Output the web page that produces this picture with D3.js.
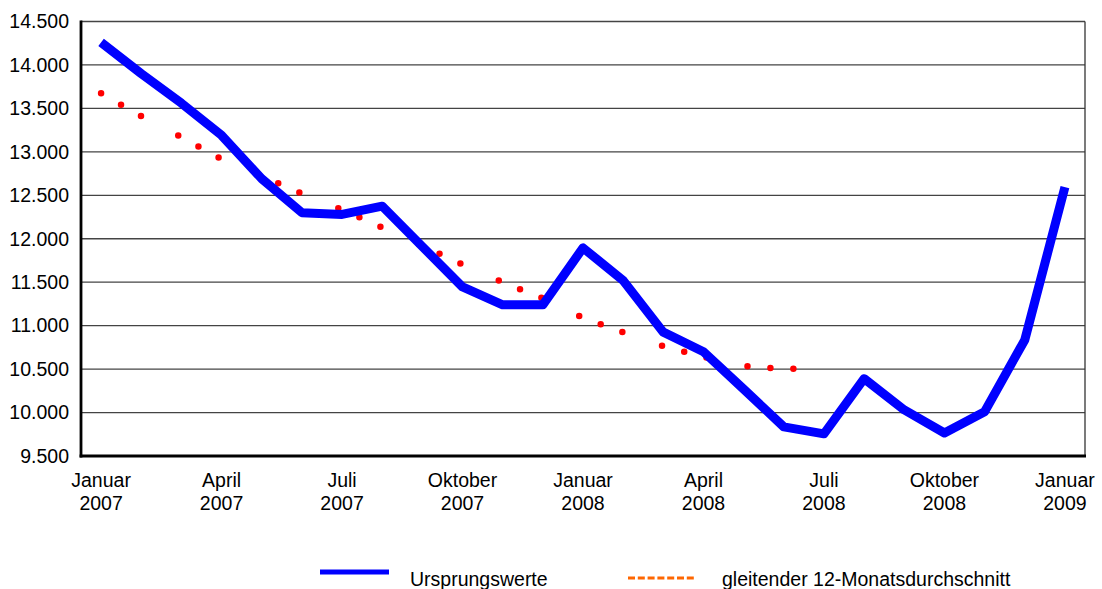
<!DOCTYPE html>
<html><head><meta charset="utf-8">
<script src="https://cdn.jsdelivr.net/npm/d3@7"></script>
<style>
html,body{margin:0;padding:0;background:#fff;}
svg{display:block;font-family:"Liberation Sans",Arial,sans-serif;}
</style></head>
<body>
<svg id="chart" width="1102" height="589"></svg>
<script>
const months = ["Januar 2007","Februar 2007","März 2007","April 2007","Mai 2007","Juni 2007","Juli 2007","August 2007","September 2007","Oktober 2007","November 2007","Dezember 2007","Januar 2008","Februar 2008","März 2008","April 2008","Mai 2008","Juni 2008","Juli 2008","August 2008","September 2008","Oktober 2008","November 2008","Dezember 2008","Januar 2009"];
const tickLabels = ["Januar 2007","April 2007","Juli 2007","Oktober 2007","Januar 2008","April 2008","Juli 2008","Oktober 2008","Januar 2009"];
const ursprungswerte = [14260,13900,13560,13190,12690,12300,12280,12375,11910,11445,11240,11240,11895,11520,10925,10700,10270,9835,9755,10390,10030,9765,10010,10835,12595];
const gleitenderDurchschnitt = [13675,13410,13170,12915,12720,12520,12335,12130,11920,11705,11500,11315,11090,10925,10765,10640,10535,10500,10515];
const yTicks = [9500,10000,10500,11000,11500,12000,12500,13000,13500,14000,14500];
const legendLabels = ["Ursprungswerte","gleitender 12-Monatsdurchschnitt"];

const svg = d3.select("#chart");
const L = 81, R = 1085, T = 21.5, B = 456;

const x = d3.scaleBand().domain(months).range([L, R]).padding(0);
const cx = d => x(d) + x.bandwidth() / 2;
const y = d3.scaleLinear().domain([9500, 14500]).range([B, T]);
const de = d3.formatLocale({decimal: ",", thousands: ".", grouping: [3], currency: ["", " €"]});
const fmt = de.format(",d");

// gridlines
svg.append("g").selectAll("line").data(yTicks.filter(v => v > 9500)).join("line")
  .attr("x1", L).attr("x2", R).attr("y1", d => y(d)).attr("y2", d => y(d))
  .attr("stroke", "#444").attr("stroke-width", 1.3);
// right frame
svg.append("line").attr("x1", R).attr("x2", R).attr("y1", T).attr("y2", B)
  .attr("stroke", "#333").attr("stroke-width", 1.3);

// y axis
const yAxis = d3.axisLeft(y).tickValues(yTicks).tickFormat(fmt).tickSize(0).tickPadding(12);
const ga = svg.append("g").attr("transform", `translate(${L},0)`).call(yAxis);
ga.select(".domain").remove();
ga.selectAll("text").attr("font-size", 19.5).attr("fill", "#000")
  .attr("font-family", "'Liberation Sans',Arial,sans-serif");

// x axis
const xAxis = d3.axisBottom(x).tickValues(tickLabels).tickSize(0).tickFormat("");
const gx = svg.append("g").attr("transform", `translate(0,${B})`).call(xAxis);
gx.select(".domain").remove();
gx.selectAll(".tick").each(function(d) {
  const parts = d.split(" ");
  const t = d3.select(this).append("text").attr("fill", "#000").attr("text-anchor", "middle")
    .attr("font-size", 19.5).attr("font-family", "'Liberation Sans',Arial,sans-serif");
  t.append("tspan").attr("x", 0).attr("y", 31).text(parts[0]);
  t.append("tspan").attr("x", 0).attr("y", 53.5).text(parts[1]);
});

// axis lines
svg.append("line").attr("x1", L).attr("x2", L).attr("y1", T - 1).attr("y2", B + 1.5)
  .attr("stroke", "#000").attr("stroke-width", 2.8);
svg.append("line").attr("x1", L - 1.4).attr("x2", R + 1).attr("y1", B).attr("y2", B)
  .attr("stroke", "#000").attr("stroke-width", 2.8);

// moving average (dotted)
const lineMA = d3.line().x((d, i) => cx(months[i])).y(d => y(d));
svg.append("path").datum(gleitenderDurchschnitt).attr("d", lineMA)
  .attr("fill", "none").attr("stroke", "#ff0000").attr("stroke-width", 6.5)
  .attr("stroke-linecap", "round").attr("stroke-dasharray", "0 23 0 23 0 42");

// original values
const line = d3.line().x((d, i) => cx(months[i])).y(d => y(d));
svg.append("path").datum(ursprungswerte).attr("d", line)
  .attr("fill", "none").attr("stroke", "#0000ff").attr("stroke-width", 9)
  .attr("stroke-linejoin", "round").attr("stroke-linecap", "butt");

// legend
const lg = svg.append("g");
lg.append("line").attr("x1", 320).attr("x2", 389).attr("y1", 572).attr("y2", 572)
  .attr("stroke", "#0000ff").attr("stroke-width", 5);
lg.append("text").attr("x", 410).attr("y", 586).attr("font-size", 19.5).attr("fill", "#000").text(legendLabels[0]);
lg.append("line").attr("x1", 628).attr("x2", 696).attr("y1", 578).attr("y2", 578)
  .attr("stroke", "#ff6600").attr("stroke-width", 3).attr("stroke-dasharray", "7 2.8");
lg.append("text").attr("x", 722).attr("y", 586).attr("font-size", 19.5).attr("fill", "#000").text(legendLabels[1]);
</script>
</body></html>
